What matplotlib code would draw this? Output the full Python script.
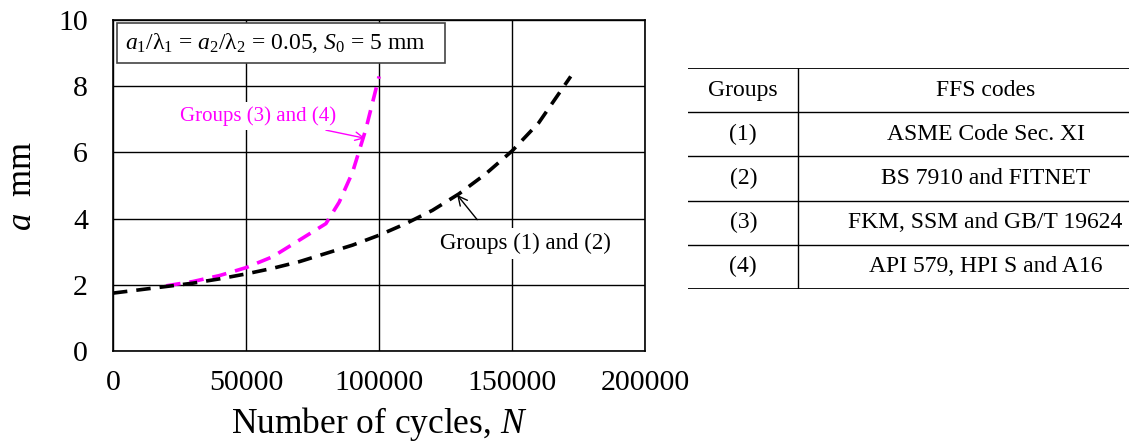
import matplotlib
matplotlib.use("Agg")
import matplotlib.pyplot as plt

plt.rcParams["font.family"] = ["Liberation Serif", "DejaVu Serif"]
plt.rcParams["mathtext.fontset"] = "custom"
plt.rcParams["mathtext.rm"] = "Liberation Serif"
plt.rcParams["mathtext.it"] = "Liberation Serif:italic"

# groups (1) and (2)
n_12 = [0, 10000, 20000, 30000, 40000, 50000, 60000, 70000, 80000, 90000,
        100000, 110000, 120000, 130000, 140000, 150000, 160000, 172000]
a_12 = [1.75, 1.85, 1.95, 2.05, 2.18, 2.33, 2.5, 2.7, 2.95, 3.2,
        3.5, 3.85, 4.25, 4.75, 5.35, 6.05, 6.9, 8.3]

# groups (3) and (4)
n_34 = [20000, 30000, 40000, 50000, 60000, 70000, 75000, 80000, 85000,
        90000, 95000, 100000]
a_34 = [1.97, 2.1, 2.28, 2.52, 2.85, 3.35, 3.6, 3.85, 4.5, 5.4, 6.7, 8.3]

table_groups = ["(1)", "(2)", "(3)", "(4)"]
table_codes = ["ASME Code Sec. XI", "BS 7910 and FITNET",
               "FKM, SSM and GB/T 19624", "API 579, HPI S and A16"]

fig = plt.figure(figsize=(11.3, 4.48), dpi=100)
ax = fig.add_axes([0.1, 0.2165, 0.471, 0.7385])

ax.plot(n_34, a_34, color="#ff00ff", lw=2.6, dashes=(4, 2.5), zorder=3)
ax.plot(n_12, a_12, color="black", lw=2.6, dashes=(4, 2.5), zorder=4)

ax.set_xlim(0, 200000)
ax.set_ylim(0, 10)
ax.set_xticks([0, 50000, 100000, 150000, 200000])
ax.set_yticks([0, 2, 4, 6, 8, 10])
ax.tick_params(axis="x", length=0, labelsize=21.5, pad=14)
ax.tick_params(axis="y", length=0, labelsize=21.5, pad=18)
ax.grid(True, color="black", lw=1)
ax.set_axisbelow(True)
for s in ax.spines.values():
    s.set_linewidth(1.2)

ax.set_xlabel("Number of cycles, $N$", fontsize=25.5, labelpad=6)
ax.set_ylabel("$a$  mm", fontsize=25, labelpad=14)

ax.text(0.022, 0.967,
        r"$a_1/\mathrm{\lambda}_1$ = $a_2/\mathrm{\lambda}_2$ = 0.05, $S_0$ = 5 mm   ",
        transform=ax.transAxes, fontsize=17, va="top", ha="left", zorder=6,
        bbox=dict(boxstyle="square,pad=0.33", fc="white", ec="#444444", lw=1.2))

ax.annotate("Groups (3) and (4)", xy=(94700, 6.43), xytext=(84000, 7.1),
            fontsize=15, color="#ff00ff", ha="right", va="center", zorder=6,
            bbox=dict(boxstyle="square,pad=0.2", fc="white", ec="none"),
            arrowprops=dict(arrowstyle="->", color="#ff00ff", lw=1, shrinkA=0, shrinkB=0))
ax.annotate("Groups (1) and (2)", xy=(129300, 4.72), xytext=(155000, 3.25),
            fontsize=16.5, color="black", ha="center", va="center", zorder=6,
            bbox=dict(boxstyle="square,pad=0.2", fc="white", ec="none"),
            arrowprops=dict(arrowstyle="->", color="black", lw=1,
                            shrinkA=8, shrinkB=0, relpos=(0.28, 1.0)))

# table on the right
tax = fig.add_axes([0.609, 0.355, 0.39, 0.493])
tax.set_xlim(0, 1)
tax.set_ylim(0, 5)
tax.axis("off")
for y in range(6):
    tax.axhline(5 - y, color="black", lw=1.3 if y in (0, 5) else 1.0)
tax.axvline(0.25, color="black", lw=1.0)
tax.text(0.125, 4.5, "Groups", fontsize=17, ha="center", va="center")
tax.text(0.675, 4.5, "FFS codes", fontsize=17, ha="center", va="center")
for i, (g, c) in enumerate(zip(table_groups, table_codes)):
    tax.text(0.125, 3.5 - i, g, fontsize=17, ha="center", va="center")
    tax.text(0.675, 3.5 - i, c, fontsize=17, ha="center", va="center")

fig.savefig("out.png", dpi=100)
